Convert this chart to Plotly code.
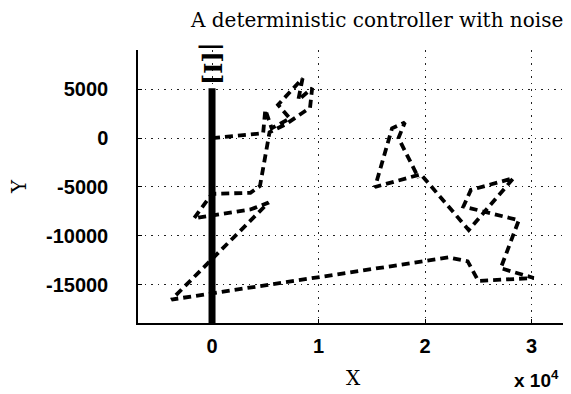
import plotly.graph_objects as go

# trajectory (x in raw units, shown as x 10^4)
path_x = [0, 4800, 5000, 5600, 7300, 6200, 8500, 8100, 9400, 9200, 6900, 5400,
          4500, 3600, 0, -1700, 3600, 5300, -3800, 22200, 24000, 25000, 30200,
          27100, 28800, 23600, 24300, 28300, 24100, 19600, 15300, 16900, 18100,
          17500, 19400]
path_y = [0, 500, 2900, 1000, 2000, 3400, 6100, 3900, 5100, 3100, 1400, 600,
          -4900, -5600, -5700, -8200, -7300, -6600, -16500, -12200, -12600,
          -14600, -14300, -13300, -8400, -7000, -5300, -4100, -9400, -3700,
          -5000, 1000, 1600, 0, -4100]

# obstacle / wall at x = 0
wall_x = [0, 0]
wall_y = [-19000, 5100]

x_ticks = [0, 10000, 20000, 30000]
x_tick_labels = ["0", "1", "2", "3"]
y_ticks = [5000, 0, -5000, -10000, -15000]
y_tick_labels = ["5000", "0", "-5000", "-10000", "-15000"]

title_text = "A deterministic controller with noise"

# the page body adds an 8px offset, so the figure is drawn 8px smaller
W, H = 563, 386
L, T, B = 130, 42, 71
PW = W - L

fig = go.Figure()
fig.add_trace(go.Scatter(x=wall_x, y=wall_y, mode="lines",
                         line=dict(color="black", width=7), hoverinfo="skip"))
fig.add_trace(go.Scatter(x=path_x, y=path_y, mode="lines",
                         line=dict(color="black", width=3.8, dash="8px,5px")))

tick_font = dict(family="Liberation Sans, Arial", size=20, color="black", weight="bold")
grid = dict(showgrid=True, gridcolor="#222", griddash="1.5px,5px", gridwidth=1.2,
            zeroline=False, showline=True, linecolor="black", linewidth=1.5,
            ticks="inside", ticklen=4, tickcolor="black", automargin=False)

fig.update_layout(
    width=W, height=H,
    margin=dict(l=L, r=0, t=T, b=B, pad=0),
    paper_bgcolor="white", plot_bgcolor="white",
    showlegend=False,
    xaxis=dict(range=[-6950, 33700], tickvals=x_ticks, ticktext=x_tick_labels,
               tickfont=tick_font, ticklabelstandoff=4, **grid),
    yaxis=dict(range=[-18900, 9000], tickvals=y_ticks, ticktext=y_tick_labels,
               tickfont=tick_font, ticklabelstandoff=24, **grid),
    annotations=[
        dict(text=title_text, xref="paper", yref="paper", x=(376 - 138) / PW, y=1,
             yshift=30, xanchor="center", yanchor="middle", showarrow=False,
             font=dict(family="DejaVu Serif", size=20, color="black")),
        dict(text="X", xref="paper", yref="paper", x=(353 - 138) / PW, y=0,
             yshift=-55, xanchor="center", yanchor="middle", showarrow=False,
             font=dict(family="DejaVu Serif", size=20, color="black")),
        dict(text="x 10<sup>4</sup>", xref="paper", yref="paper", x=(536 - 138) / PW, y=0,
             yshift=-56, xanchor="center", yanchor="middle", showarrow=False,
             font=dict(family="Liberation Sans", size=19, color="black", weight="bold")),
        dict(text="Y", xref="paper", yref="y", x=0, xshift=-119, y=-5000,
             xanchor="center", yanchor="middle", showarrow=False, textangle=-90,
             font=dict(family="DejaVu Serif", size=20, color="black")),
        dict(text="|[I]", xref="x", yref="y", x=0, y=9000, yshift=10,
             xanchor="center", yanchor="top", showarrow=False, textangle=90,
             font=dict(family="DejaVu Serif", size=24, color="black", weight="bold")),
    ],
)

fig.write_html("out.html")
